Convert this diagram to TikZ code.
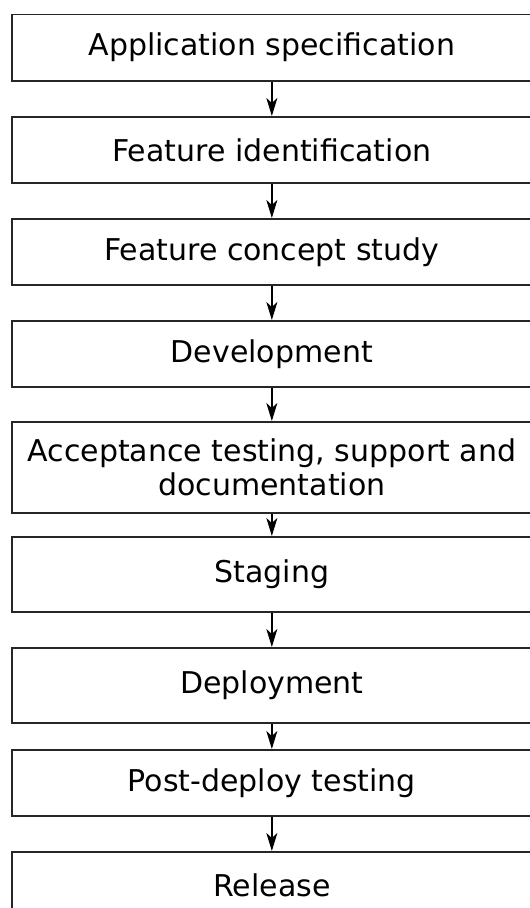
\documentclass[tikz,border=0pt]{standalone}
\usepackage{fontspec}
\setmainfont{DejaVu Sans}
\usetikzlibrary{arrows.meta}
\begin{document}
\begin{tikzpicture}[x=1pt,y=-1pt,
  stage/.style={draw=black!85, line width=1.7pt, anchor=north west,
    minimum width=520pt, inner sep=0pt, align=center,
    font=\fontsize{30}{34.5}\selectfont},
  flow/.style={draw=black, line width=1.6pt,
    -{Stealth[length=18pt,width=11pt,inset=5pt]}}]
\useasboundingbox (0,0) rectangle (530,908);
\clip (0,0) rectangle (530,908);
\node[stage, minimum height=66.5pt] (s1) at (11,13.5) {Application specification};
\node[stage, minimum height=66pt] (s2) at (11,116) {Feature identification};
\node[stage, minimum height=66pt] (s3) at (11,218) {Feature concept study};
\node[stage, minimum height=66pt] (s4) at (11,320) {Development};
\node[stage, minimum height=91pt] (s5) at (11,421) {Acceptance testing, support and\\documentation};
\node[stage, minimum height=75pt] (s6) at (11,536) {Staging};
\node[stage, minimum height=75pt] (s7) at (11,647) {Deployment};
\node[stage, minimum height=66pt] (s8) at (11,749) {Post-deploy testing};
\node[stage, minimum height=66pt] (s9) at (11,851) {Release};
\foreach \a/\b in {s1/s2,s2/s3,s3/s4,s4/s5,s5/s6,s6/s7,s7/s8,s8/s9}
  \draw[flow] (\a.south) -- (\b.north);
\end{tikzpicture}
\end{document}
